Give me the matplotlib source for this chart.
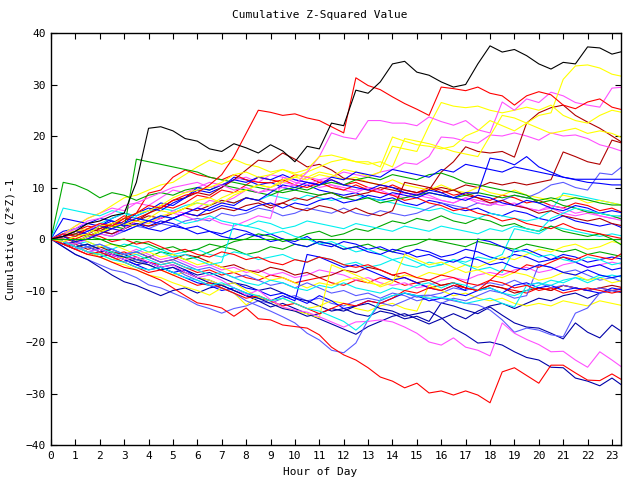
import matplotlib
matplotlib.use("Agg")
import matplotlib.pyplot as plt

HOURS = [i * 0.5 for i in range(48)]
X_TICKS = list(range(24))
Y_TICKS = [-40, -30, -20, -10, 0, 10, 20, 30, 40]

black_top = [0,0.5,1.5,3,3.5,4.5,5,11,21.5,21.8,21,19.5,19,17.5,17,18.5,17.7,16.7,18.3,17.1,15,18,17.5,22.5,22,28.9,28.3,30.5,34,34.5,32.4,31.8,30.5,29.5,30,34,37.5,36.3,36.8,35.6,34,33,34.3,34,37.3,37.1,35.9,36.5]
red_top = [0,1,0.5,2,3,2.5,4,5,6.5,6,7.5,8.5,9,10.5,12.5,16,20.5,25,24.6,24,24.3,23.5,23,21.8,20.6,31.3,29.8,29,27.6,26.3,25.2,24,29.5,29.2,28.8,29.5,28.3,27.8,26,27.8,28.6,28,26,25.3,26.6,27.2,25.6,25]
magenta_top = [0,1,2,3.5,4,5,6.5,7,8,9,10,10.5,11,10,10.5,9.5,10,9,9.5,10,10.5,13,16,20.6,19.8,19.4,23,23,22.5,22.5,22,23.7,22.8,22.1,23,21.2,20.6,26.6,25,27.2,26.5,28.5,27.8,26.5,26,25.6,29.3,29.5]
yellow_1 = [0,-0.5,0.5,1,2.5,3,4,5,5.5,6.5,8,9,9.5,10,11,12.5,13,12,12.5,13.5,12.8,13.5,16,16.3,15.7,15,15,14,19.8,19,18.3,18,17.5,18,20,21,23,22,21,22.5,24,24.5,31,33.6,33.8,33.2,32,31.5]
yellow_2 = [0,1,1.5,2,1,2.5,3,2.5,4,5.5,5,6,7.5,8,7,8.5,9.5,10.5,10,11,12,11.5,12.5,12,13.5,13,12.2,13,18,17.5,17,22,26.5,25.8,25.5,25.8,25,24.5,25,25.6,25,26,24,23,22.5,24,25,24.5]
yellow_3 = [0,0.5,-0.5,0.5,1.5,2,3,3.5,3,4.5,5,6,7,6.5,8,9,9.5,10.5,10,11.5,12,13,14,15,15.5,15,14.5,15,14,19.5,19,18.5,17.8,17,16.5,16,20,24,23.5,22.5,21.5,20.5,21,21.5,20.5,21,20.5,19.5]
yellow_4 = [0,-0.5,-1.5,-2.5,-3,-4,-3.5,-4.5,-5,-6,-7,-6.5,-7.5,-8,-9,-8.5,-10,-11.3,-12,-13.2,-14,-14.5,-15.3,-5,-6,-7,-8,-9.3,-8.5,-3,-4,-5,-4.5,-5.5,-6.5,-6,-7,-7.5,-6.5,-7,-8,-7.5,-6.5,-7,-8,-7.5,-8.5,-8]
yellow_5 = [0,1,0.5,-0.5,-1.5,-1,-2,-3,-2.5,-3.5,-3,-4,-5,-4.5,-5.5,-6.5,-6,-7,-8,-7.5,-8.5,-9.5,-8.5,-9,-8,-7.5,-8.5,-9,-8,-7,-7.5,-6.5,-7,-6,-5,-5.5,-4.5,-3.5,-4,-3,-2,-2.5,-1.5,-1,-2,-1.5,-0.5,-1]
yellow_6 = [0,1,2.5,4,5,6.5,8,8.5,9.5,10.5,11,12.5,14,15.3,14.5,15.5,14.5,14,13,13.5,12.5,12,13,12.5,11.5,12,11,10.5,11.5,10.5,10,9.5,10.5,9.5,9,10,9,8.5,9.5,8.5,8,7.5,8.5,8,7,7.5,7,6.5]
yellow_7 = [0,-0.5,-1.5,-2.5,-3.5,-4.5,-5,-6,-7,-7.5,-8.5,-9.3,-10,-10.9,-9.5,-10.5,-12.8,-11,-12,-11.5,-12.5,-13.5,-13,-12,-12.5,-13.5,-14,-13,-12.5,-13.5,-14,-9,-10,-11,-10.5,-11.5,-12,-11.5,-12.5,-13,-12.5,-13,-12,-12.5,-13,-12,-12.5,-13]
magenta_2 = [0,-0.5,-1,0,1,0.5,2,3.5,3,4,5.5,5,6,7.5,7,8,9.5,9,10,11,10.5,12,11.5,12,13,12.5,12,13,13.5,14.8,14.5,16,19.8,19.6,19,18.6,20.2,20,20.6,20,19.2,20.6,20,20.2,19.5,18.3,17.7,16.9]
magenta_3 = [0,1,2.5,4,5,6,5.5,7,6.5,8,9.5,9,10,11,10.5,11.5,12,11,12.5,12,11,10.5,11.5,10.5,10,9.5,10,9,8.5,9,8.5,8,7.5,7,8,7.5,7,6.5,7,6,5.5,6,5,4.5,5,4.5,4,3.5]
magenta_4 = [0,-1,-2,-1.5,-2.5,-3.5,-3,-2,-3,-4,-3.5,-4.5,-5.5,-5,-6,-5.5,-6.5,-6,-7,-6.5,-7.5,-7,-6,-6.5,-7,-8,-7.5,-8.5,-9,-8.5,-9.5,-9,-8,-7.5,-8,-7,-6.5,-7,-6,-5.5,-6.5,-6,-5,-4.5,-5.5,-5,-4.5,-5]
magenta_5 = [0,0.5,2,1.5,3,2.5,4,3.5,3,4,5,4.5,3.5,4,3,2.5,3.5,4.5,4,12,11.5,11,10,10.5,9.5,9,10,9.5,8.5,8,9,8.5,7.5,7,8,7,6.5,7.5,6.5,6,5.5,6.5,6,5,5.5,4.5,4,4.5]
magenta_low = [0,-0.5,-1.5,-2.5,-2,-3,-4,-3.5,-4.5,-5.5,-5,-6.5,-7.5,-7,-8,-9.5,-10.9,-9.9,-11.8,-13.2,-13.8,-14.2,-15.1,-16.1,-17.1,-16.1,-16,-15.7,-16.1,-17.1,-18.3,-20,-20.6,-19.2,-21,-21.6,-22.7,-16.3,-18.3,-19.5,-20.5,-21.9,-21.8,-23.5,-24.9,-21.9,-23.5,-25.2]
darkred_1 = [0,0.5,1,2,1.5,3,4,3.5,5,6,7.5,8,9,8.5,10,11.5,13.4,15.3,15,16.7,15.5,14,14.5,13.4,11.8,11.5,11,10.5,10,9.5,9,9.5,13,15,17.9,17,16.7,17,15.9,22.5,24.5,25.5,26,24,22.7,21.5,20,18.5]
darkred_2 = [0,0,-0.5,0.5,1.5,1,2,3,2.5,3,4,5,4.5,5,6,5.5,6.5,7,6,7,8,7.5,8.5,9,8,8.5,9,10,9.5,9,8.5,9.5,10,9.5,10.5,10,11,10.5,11,10.5,11,11.5,16.9,16,15,14.5,19.2,18.5]
darkred_3 = [0,-0.5,-1,-2,-1.5,-2.5,-3,-2.5,-3.5,-4.5,-4,-3,-3.5,-4.5,-5.5,-5,-6,-6.5,-5.5,-6,-7,-6.5,-7.5,-7,-6,-6.5,-5.5,-6,-7,-7.5,-8.5,-8,-9,-8.5,-9.5,-10,-9,-9.5,-10.5,-10,-9.5,-10,-9,-9.5,-10,-9.5,-9,-9.5]
darkred_4 = [0,0.5,1.5,1,2,3,2.5,3.5,4.5,4,5,6,5.5,6.5,7.5,7,8,7.5,6.5,7,6,5.5,6.5,6,5,6,5,4.5,5.5,11,10.5,10,9,9.5,8.5,8,7,7.5,6.5,6,5,5.5,4.5,4,3.5,4,3,2.5]
red_low = [0,-1,-2,-3,-3.5,-4.5,-5.5,-6,-7,-8,-9.5,-11,-12.4,-12.8,-13.4,-15,-13.4,-15.5,-15.7,-16.7,-17,-17.3,-18.6,-21,-22.5,-23.5,-25,-26.8,-27.6,-28.9,-28,-29.9,-29.5,-30.3,-29.5,-30.3,-31.8,-25.8,-25,-26.5,-28,-24.5,-24.5,-26,-27.4,-27.5,-26.2,-27.6]
red_3 = [0,-1,-1.5,-1,-2,-3,-2.5,-3.5,-4.5,-5,-4.5,-5.5,-6.5,-6,-7,-6.5,-7.5,-8,-7,-7.5,-8.5,-8,-7.5,-8.5,-9,-8,-8.5,-7.5,-8,-9,-8.5,-9.5,-9,-8.5,-9.5,-10,-9,-9.5,-10,-10.5,-9.5,-10,-9,-9.5,-10,-9.5,-10,-9.5]
red_4 = [0,0.5,1.5,2.5,2,3,4.5,4,5,6.5,6,7,8.5,8,9.5,9,10.5,12,11.5,11,12.5,12,11,11.5,10.5,11,10,9.5,10.5,9.5,9,10,9.5,8.5,9,8,7.5,8.5,8,7,7.5,6.5,6,7,6.5,5.5,6,5]
red_5 = [0,0.5,-0.5,0,1,2,3.5,5,8.9,9.5,12,13.4,12.5,12,11.5,12.5,11.5,11,10.9,11.5,10.5,10,11,10,9.5,10.5,9.5,9,8.5,7.5,8,7,6.5,5.5,6,5,4.5,3.5,4,3,2.5,2,3,2,1.5,1,0.5,0]
red_6 = [0,-1,-2,-3,-2.5,-3.5,-4.5,-5.5,-6.5,-6,-7,-8,-9,-8.5,-9.5,-10.5,-11.5,-11,-12,-13,-12.5,-13.5,-14.5,-13.5,-12.5,-13,-12,-12.5,-11.5,-10,-10.5,-9.5,-10,-9,-9.5,-10,-8,-6,-6.5,-5,-5.5,-4.5,-3.5,-4,-3,-3.5,-4,-2.5]
red_7 = [0,0.5,0,1,0.5,-0.5,0,-1,-0.5,-1.5,-2.5,-2,-3,-3.5,-2.5,-3,-4,-3.5,-4.5,-5,-4,-4.5,-3.5,-4,-5,-5.5,-5,-6,-7,-6.5,-7.5,-8,-7,-7.5,-8.5,-9,-8,-8.5,-9.5,-9,-10,-9.5,-10.5,-10,-9.5,-10,-10.5,-10]
green_1 = [0,11,10.5,9.5,8,9,8.5,7.5,8.5,9,8.5,9.5,10,9.5,10.5,10,9.5,9,8.5,9.5,10,9.5,10.5,11,10.5,11.5,12,11.5,12.5,12,11.5,12.5,12.8,12,10.9,10.5,10,9.5,9.1,8.5,7,7.5,6.5,6,5.2,5,4.5,3.7]
green_2 = [0,0.5,1,0.5,1.5,2.5,2,15.5,15,14.5,14,13.5,13,12,11.5,11,10.5,10,9.5,9,9.5,9,8.5,9,8,7.5,8,7,7.5,8,8.5,9,8.5,8,8.5,9,8.5,8,8.5,8,7.5,8,7.5,8,7.6,7,6.6,6.6]
green_3 = [0,-0.5,-1.5,-2.5,-3,-2.5,-3.5,-4,-3.5,-2.5,-3,-4,-3.5,-2.5,-1.5,-2,-3,-2.5,-1.5,-2,-1,-1.5,-0.5,-1,-2,-1.5,-1,-2,-2.5,-1.5,-1,0,-0.5,-1,-1.5,-0.5,-1,-1.5,-2,-1,-1.5,-2,-2.5,-2,-3,-2.5,-3,-3.5]
green_4 = [0,-1,-0.5,0.5,0,-1,-1.5,-0.5,-1,-2,-1.5,-2.5,-2,-1,-1.5,-0.5,0,1,0.5,-0.5,0,1,1.5,0.5,1,2,1.5,2.5,3.5,3,4,3.5,4.5,3.5,3,4,3.5,2.5,3,2,1.5,2.5,1.5,1,0.5,1,0,-1.5]
green_zero = [0] * 48
cyan_1 = [0,6,5.5,5,4.5,5.5,5,4,3.5,4.5,4,3,3.5,4.5,3.5,3,2.5,3.5,3,2,2.5,3.5,3,2.5,2,3,2.5,2,1.5,2.5,2,1.5,2.5,2,1.5,1,2,1.5,2.5,2,1.5,4,5,6,5.5,5,4.5,4.5]
cyan_2 = [0,-0.5,-1,-0.5,-1.5,-2,-1,-1.5,-2.5,-2,-3,-2.5,-2,-3,-3.5,-2.5,-3,-4,-3.5,-3,-4,-4.5,-3.5,-4,-5,-4.5,-5.5,-5,-4,-5,-5.5,-4.5,-5,-4,-4.5,-3.5,-4,-3,2,1.5,1,2.5,2,1.5,1,0.5,1,0.5]
cyan_3 = [0,-0.5,-1.5,-2.5,-3,-4,-4.5,-5.5,-6,-5.5,-6.5,-7.5,-8,-9,-8.5,-9.5,-10.5,-11,-12,-11.5,-12.5,-13.5,-14,-15,-16,-17.7,-15.7,-11.8,-11,-10.5,-11,-11.5,-11.3,-11.8,-12.5,-12,-11.5,-12.5,-13.2,-9,-8.5,-9,-8,-7.5,-8.5,-7.5,-7,-7.5]
cyan_4 = [0,1,2,1.5,3,4,5,4.5,5.5,6,5.5,6.5,7,6.5,7.5,7,8,7.5,8.5,8,7.5,8.5,8,7.5,8,8.5,8,7.5,7,6.5,6,5.5,6,5,4.5,4,5,4.5,4,3.5,4,5.5,8.9,8.5,8,7.5,7,6.5]
cyan_5 = [0,-0.5,-1.5,-1,-2,-2.5,-3.5,-3,-4,-5,-4.5,-5.5,-6,-7,-6.5,-7.5,-8.5,-9,-8,-8.5,-9.5,-10,-9,-9.5,-8.5,-9.5,-10,-10.5,-9.5,-10,-9,-8.5,-9.5,-8.5,-9,-10,-9.5,-10.5,-11,-10,-9,-8,-8.5,-7.5,-8,-7,-7.5,-7]
cyan_6 = [0,-1,-2,-1.5,-1,-2,-3,-2.5,-1.5,-2.5,-3.5,-3,-4,-5,-4.5,3,2.5,2,1,1.5,0.5,0,-1,-0.5,-1.5,-2.5,-2,-3,-4,-3.5,-4.5,-5.5,-5,-4,-5,-6,-5.5,-6.5,-2,-2.5,-3.5,-3,-4,-4.5,-3.5,-4,-5,-4.5]
blue_flat = [0,1,0.5,1.5,2.5,2,3,4,3.5,4.5,4,5,6,5.5,6.5,6,5.5,6.5,7,6,7,6.5,7.5,8,7,7.5,8.5,8,9,8.5,8,9,8.5,8,9,8.9,15.7,15.3,14.4,16,14,13,12,11.6,11.6,11.6,11.6,11.6]
blue_2 = [0,0.5,-0.5,0,1,2,1.5,2.5,3.5,3,4,5,4.5,6,7,6.5,8,7.5,9,10.5,10,11,10.5,12,11.5,13,12.5,12,13.5,13,12.5,12,13.5,13,14.5,14,13.5,13,14,13.5,13,12.5,12,11.5,11,10.8,10.5,10.5]
blue_3 = [0,1.5,2,3,2.5,4,5,4.5,5.5,7,6.5,8,9.5,9,10,12,11.5,10.5,11,10,9.5,10.5,9.5,9,8.5,9,8,7.5,8,7,6.5,7.5,7,6,5.5,6,5,4.5,5.5,5,4,3.5,4.5,3.5,3,2.5,3,2]
blue_4 = [0,-1,-0.5,0.5,1.5,1,2,3,2.5,3.5,3,2,2.5,1.5,1,2,1.5,0.5,1,0,-0.5,0.5,-1,-1.5,-0.5,-1,-2,-1.5,-2.5,-3,-2,-2.5,-3.5,-3,-2,-2.5,-3.5,-4,-3,-3.5,-4.5,-4,-3,-3.5,-4.5,-4,-3.5,-4]
blue_5 = [0,-0.5,-1.5,-2.5,-2,-3,-4,-5,-4.5,-5.5,-6.5,-6,-7.5,-8,-9,-8.5,-9.5,-10,-11,-10.5,-11.5,-12.5,-11,-12,-13.5,-13,-12,-12.5,-11.5,-10.5,-11,-12,-11.5,-10.5,-11,-10,-9.5,-10.5,-9,-8.5,-9.5,-9,-10,-9.5,-10,-10.5,-9.5,-10]
blue_7 = [0,0.5,1.5,1,2.5,3.5,3,5,6,5.5,7,8,10,9.5,10.5,11.5,11,12,11.5,12.5,11.5,11,10.5,11.5,10.5,10,9.5,10.5,10,9,8.5,9.5,9,8,7.5,8.5,8,7,6.5,7.5,7,6,5.5,6.5,6,5,5.5,5]
blue_8 = [0,4,3.5,3,4,3.5,2.5,3,2,1.5,2.5,2,1,1.5,0.5,0,1,0.5,-0.5,0,-1,-1.5,-0.5,-1,-2,-1.5,-2.5,-3,-2,-2.5,-3.5,-3,-4,-4.5,-3.5,-4,-5,-4.5,-5.5,-6,-5,-5.5,-6.5,-7,-6,-7,-7.5,-7]
blue_9 = [0,-0.5,-1.5,-2.5,-3.5,-3,-4,-5,-6,-5.5,-6.5,-7.5,-8.5,-9,-10,-9.5,-10.5,-11.5,-12,-11,-12,-3,-3.5,-4.5,-5.5,-5,-6,-7,-8,-7.5,-8.5,-9.5,-10,-9,-10,0,-0.5,-1.5,-2.5,-2,-3,-4,-3.5,-4.5,-5.5,-5,-6,-5.5]
navy_1 = [0,-0.5,-1.5,-1,-2,-3,-3.5,-4.5,-5,-6,-5.5,-6.5,-7.5,-8.5,-9,-10,-11,-11.5,-12.5,-13.5,-14,-15,-14.5,-13.5,-14,-13,-12.5,-13.5,-14,-15,-14.5,-14,-15.3,-17.3,-18.6,-20.2,-20,-20.6,-21.9,-23,-23.5,-24.9,-25,-27,-27.6,-28.5,-27,-28.7]
navy_2 = [0,-1,-0.5,-1.5,-2.5,-2,-3,-4,-4.5,-5.5,-5,-6,-7,-6.5,-7.5,-8.5,-9,-10,-9.5,-10.5,-11.5,-12,-13,-14,-13.5,-14.5,-15,-14,-14.5,-15.5,-15,-16,-12.4,-13,-13.8,-14.5,-13.2,-14.8,-16.3,-17.1,-17.3,-18.3,-19.4,-16.3,-18.1,-19.2,-16.7,-18.3]
navy_3 = [0,-1.5,-3,-4,-5.5,-7,-8.3,-9,-10,-11,-10,-9.5,-10.5,-9.5,-9,-10,-11,-12,-13.2,-12.5,-13.5,-14.5,-15.5,-16.5,-17.5,-18.5,-17,-16,-15,-14.5,-15.5,-16.5,-15.5,-14.5,-15.5,-14,-13,-12.5,-13.5,-12.5,-11.5,-12,-11,-10.5,-11.5,-10.5,-10,-10.5]
lightblue_1 = [0,-1,-0.5,0.5,1,0.5,1.5,2.5,2,3,2.5,3.5,4,3.5,5,4.5,5,6,5.5,4.5,5,6,5.5,5,6,5,4.5,5.5,5,4.5,5,6,7,6.5,6,7,6.5,7.5,8.5,8,9,10.5,11,10,9.5,12.8,12.5,14.4]
lightblue_2 = [0,-1,-2,-1.5,-2.5,-3.5,-4.5,-4,-5,-6,-5.5,-7,-8,-9,-9.5,-10.5,-12,-13,-14,-15.1,-16.3,-18.3,-19.6,-21.6,-22.1,-20.2,-15.7,-12.4,-13,-12,-11,-10.9,-11.5,-12,-12.5,-12.8,-13.8,-15.7,-18.1,-17.3,-17.7,-18.6,-19,-14.4,-13.4,-10.5,-10,-10.3]
lightblue_3 = [0,-1.5,-3,-4,-5,-6,-6.5,-7.5,-8.9,-9.5,-10.5,-11.5,-12.8,-13.5,-14.4,-13.5,-13,-12,-12.5,-11.5,-11,-12,-11.5,-12.5,-13,-12,-11.5,-12,-11,-10.5,-11.3,-11,-10.5,-9.5,-10,-9,-8.5,-9,-8,-9,-8.5,-9.5,-9,-9.5,-10,-9.5,-10,-10.3]
lightblue_4 = [0,0.5,-0.5,-1.5,-1,-2,-3,-2.5,-3.5,-4.5,-4,-5,-6,-5.5,-6.5,-7.5,-7,-8,-9,-8.5,-9.5,-8.5,-9.5,-10.5,-10,-11,-10.5,-11.5,-10.5,-11,-12,-11.5,-12.5,-11.5,-12,-11,-10,-10.5,-11.5,-11,-5,-5.5,-6.5,-6,-7,-8,-7.5,-8.5]

RED = "#ff0000"
GREEN = "#00a800"
BLUE = "#0000ff"
MAGENTA = "#ff50ff"
CYAN = "#00f0f0"
DARKRED = "#b00000"
YELLOW = "#ffff00"
BLACK = "#000000"
LIGHTBLUE = "#5a5aff"
NAVY = "#0000a8"

series = [
    (red_3, RED), (green_3, GREEN), (blue_4, BLUE), (magenta_4, MAGENTA), (cyan_2, CYAN),
    (darkred_3, DARKRED), (yellow_5, YELLOW), (lightblue_3, LIGHTBLUE), (navy_3, NAVY),
    (red_4, RED), (green_4, GREEN), (blue_3, BLUE), (magenta_3, MAGENTA), (cyan_4, CYAN),
    (darkred_2, DARKRED), (yellow_6, YELLOW), (lightblue_1, LIGHTBLUE), (navy_2, NAVY),
    (blue_9, BLUE), (magenta_5, MAGENTA), (cyan_6, CYAN), (darkred_4, DARKRED),
    (yellow_7, YELLOW), (lightblue_4, LIGHTBLUE),
    (red_5, RED), (green_2, GREEN), (blue_5, BLUE), (magenta_2, MAGENTA), (cyan_5, CYAN),
    (darkred_1, DARKRED), (yellow_4, YELLOW), (lightblue_2, LIGHTBLUE), (navy_1, NAVY),
    (red_6, RED), (green_1, GREEN), (blue_7, BLUE), (magenta_low, MAGENTA), (cyan_3, CYAN),
    (yellow_3, YELLOW), (red_7, RED), (blue_8, BLUE), (cyan_1, CYAN), (yellow_2, YELLOW),
    (blue_2, BLUE), (blue_flat, BLUE), (red_low, RED), (magenta_top, MAGENTA),
    (yellow_1, YELLOW), (red_top, RED), (black_top, BLACK), (green_zero, GREEN),
]

FONT = "DejaVu Sans Mono"
fig = plt.figure(figsize=(6.4, 4.8), dpi=100)
ax = fig.add_axes([51 / 640, 1 - 445 / 480, 570 / 640, 412 / 480])

for vals, col in series:
    n = min(len(vals), len(HOURS))
    ax.plot(HOURS[:n], vals[:n], color=col, lw=0.8)

ax.set_xlim(0, 23.37)
ax.set_ylim(-40, 40)
ax.set_xticks(X_TICKS)
ax.set_yticks(Y_TICKS)
ax.tick_params(direction="in", length=4, width=0.8, top=True, right=True,
               labelsize=8, pad=4)
for lab in ax.get_xticklabels() + ax.get_yticklabels():
    lab.set_family(FONT)
for sp in ax.spines.values():
    sp.set_linewidth(1.0)

fig.text(0.5, 1 - 15 / 480, "Cumulative Z-Squared Value", ha="center", va="center",
         fontsize=8, family=FONT)
fig.text(0.5, 1 - 472 / 480, "Hour of Day", ha="center", va="center",
         fontsize=8, family=FONT)
fig.text(11 / 640, 1 - 239 / 480, "Cumulative (Z*Z)-1", ha="center", va="center",
         rotation=90, fontsize=8, family=FONT)

fig.savefig("out.png", dpi=100)
